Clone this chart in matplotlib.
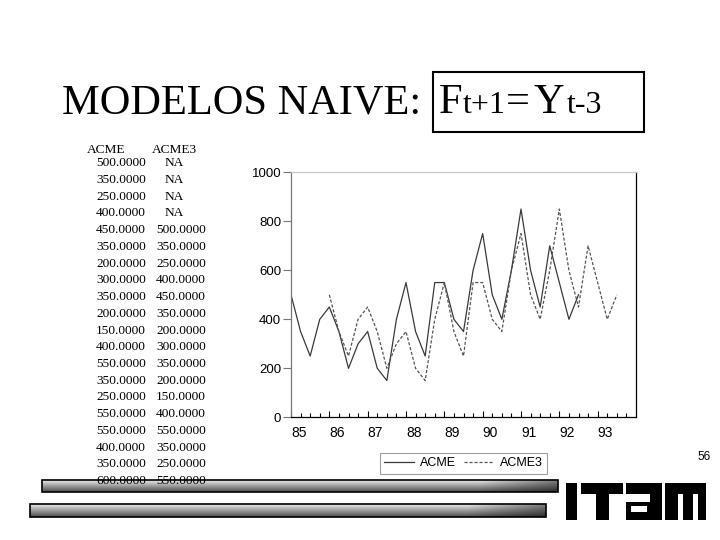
import numpy as np
import matplotlib.pyplot as plt
from matplotlib.patches import Rectangle

# quarterly series, 85Q1 onwards
acme = [500, 350, 250, 400, 450, 350, 200, 300, 350, 200, 150, 400, 550, 350, 250, 550,
        550, 400, 350, 600, 750, 500, 400, 600, 850, 600, 450, 700, 550, 400, 500]
acme3 = [None, None, None, None, 500, 350, 250, 400, 450, 350, 200, 300, 350, 200, 150, 400,
         550, 350, 250, 550, 550, 400, 350, 600, 750, 500, 400, 600, 850, 600, 450, 700,
         550, 400, 500]
year_labels = ["85", "86", "87", "88", "89", "90", "91", "92", "93"]
y_ticks = [0, 200, 400, 600, 800, 1000]
table_rows = 20

W, H = 720, 540
fig = plt.figure(figsize=(7.2, 5.4), dpi=100)

# overlay in pixel coords for the slide decoration
ov = fig.add_axes([0, 0, 1, 1], zorder=0)
ov.axis("off")

serif = "Liberation Serif"
sans = "Liberation Sans"

# title
ov.text(62, 113, "MODELOS NAIVE:", fontsize=30.5, family=serif, va="baseline")
ov.text(439, 113, "F", fontsize=30.5, family=serif, va="baseline")
ov.text(463, 113, "t+1", fontsize=23, family=serif, va="baseline")
ov.text(506, 113, "=", fontsize=30.5, family=serif, va="baseline")
ov.text(534, 113, "Y", fontsize=30.5, family=serif, va="baseline")
ov.text(567, 113, "t-3", fontsize=23, family=serif, va="baseline")
ov.add_patch(Rectangle((433, 72), 211, 60, fill=False, edgecolor="black", lw=1.5))

# gradient bars at the bottom
def grad_bar(x0, x1, y0, y1):
    ny, nx = 40, 200
    v = np.linspace(0.92, 0.3, ny)[:, None]
    hx = np.linspace(0, 1, nx)[None, :]
    shade = 1 - 0.45 * np.clip((hx - 0.85) / 0.15, 0, 1)
    g = v * shade
    ov.imshow(g, cmap="gray", vmin=0, vmax=1, extent=(x0, x1, y1, y0),
              aspect="auto", interpolation="bilinear", zorder=1)
    ov.add_patch(Rectangle((x0, y0), x1 - x0, y1 - y0, fill=False,
                           edgecolor="black", lw=1.2, zorder=2))

grad_bar(42, 558, 480, 492)
grad_bar(30, 546, 504, 517)

# data table
ov.text(106, 150, "ACME", fontsize=9.6, family=serif, ha="center", va="center", zorder=3)
ov.text(174, 150, "ACME3", fontsize=9.6, family=serif, ha="center", va="center", zorder=3)
for i in range(table_rows):
    y = 163.3 + i * 16.72
    ov.text(146, y, "%.4f" % acme[i], fontsize=9.6, family=serif,
            ha="right", va="center", zorder=3)
    if acme3[i] is None:
        ov.text(174, y, "NA", fontsize=9.6, family=serif, ha="center", va="center", zorder=3)
    else:
        ov.text(206, y, "%.4f" % acme3[i], fontsize=9.6, family=serif,
                ha="right", va="center", zorder=3)

# ITAM logo
blocks = [(566, 483, 11, 37), (581, 483, 42, 11), (596, 483, 13, 37),
          (626, 483, 36, 37), (665, 483, 41, 37)]
for bx, by, bw, bh in blocks:
    ov.add_patch(Rectangle((bx, by), bw, bh, color="black", lw=0))
holes = [(626, 494, 24, 8), (631, 506, 16, 6), (678, 494, 5, 26), (693, 494, 5, 26)]
for bx, by, bw, bh in holes:
    ov.add_patch(Rectangle((bx, by), bw, bh, color="white", lw=0))

ov.text(704, 457, "56", fontsize=8.5, family=sans, ha="center", va="center")

ov.set_xlim(0, W)
ov.set_ylim(H, 0)

# the chart
ax = fig.add_axes([291 / W, 1 - 417.3 / H, 345 / W, 245 / H], zorder=1)
ax.patch.set_alpha(0)
x1 = np.arange(len(acme))
x3 = np.arange(len(acme3))
y3 = np.array([np.nan if v is None else v for v in acme3], dtype=float)
l1, = ax.plot(x1, acme, color="#3a3a3a", lw=0.9, label="ACME")
l3, = ax.plot(x3, y3, color="#555555", lw=0.9, ls=(0, (2.5, 1.5)), label="ACME3")

ax.set_xlim(0, 36)
ax.set_ylim(0, 1000)
ax.set_yticks(y_ticks)
ax.set_yticklabels([str(v) for v in y_ticks], family=sans, fontsize=9.5)
ax.set_xticks(np.arange(len(year_labels)) * 4)
ax.set_xticklabels(year_labels, family=sans, fontsize=10, ha="left")
ax.set_xticks(np.arange(0, 36), minor=True)
ax.tick_params(axis="x", which="major", direction="in", length=4, pad=6, width=0.8)
ax.tick_params(axis="x", which="minor", direction="in", length=3, width=0.8)
ax.tick_params(axis="y", direction="out", length=6, pad=1, width=0.8, color="#777777")

ax.spines["left"].set_color("#777777")
ax.spines["top"].set_color("#c8c8c8")
ax.spines["right"].set_color("black")
ax.spines["bottom"].set_color("black")
for s in ax.spines.values():
    s.set_linewidth(0.9)

leg = ax.legend(handles=[l1, l3], loc="center", bbox_to_anchor=(463.5 / W, 1 - 463.5 / H),
                bbox_transform=fig.transFigure, ncol=2,
                prop={"family": sans, "size": 9}, frameon=True, fancybox=False,
                edgecolor="#888888", handlelength=2.4, handletextpad=0.5,
                columnspacing=0.6, borderpad=0.35)
leg.get_frame().set_linewidth(0.8)

fig.savefig("out.png", dpi=100)
